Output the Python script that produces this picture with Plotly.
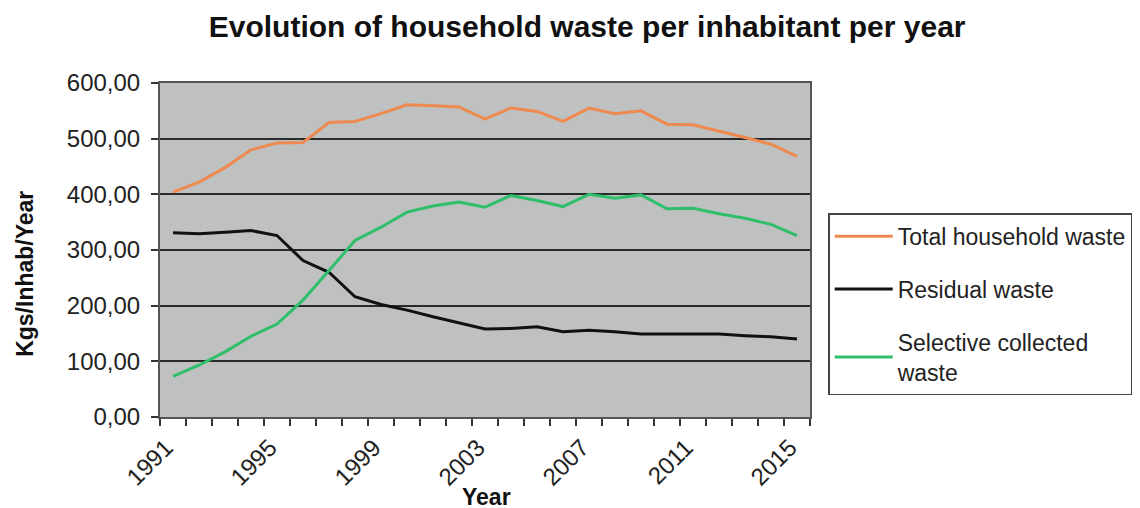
import plotly.graph_objects as go

years = list(range(1991, 2016))
total_waste = [404, 422, 448, 480, 492, 493, 529, 531, 545, 561, 559, 557, 535,
               555, 549, 531, 555, 545, 550, 526, 525, 514, 502, 490, 468]
residual_waste = [331, 329, 332, 335, 326, 281, 260, 216, 202, 192, 180, 169, 158,
                  159, 162, 153, 156, 153, 149, 149, 149, 149, 146, 144, 140]
selective_waste = [73, 93, 117, 145, 167, 210, 263, 317, 341, 368, 379, 386, 377,
                   398, 389, 378, 400, 393, 399, 374, 375, 365, 357, 346, 326]
y_ticks = [0, 100, 200, 300, 400, 500, 600]
y_tick_labels = ["0,00", "100,00", "200,00", "300,00", "400,00", "500,00", "600,00"]
x_label_years = [1991, 1995, 1999, 2003, 2007, 2011, 2015]

FONT = "Liberation Sans, Arial, sans-serif"

fig = go.Figure()
series = [
    ("Total household waste", total_waste, "#ee8a50"),
    ("Residual waste", residual_waste, "#111111"),
    ("Selective collected<br>waste", selective_waste, "#2fbf6b"),
]
for i, (name, values, color) in enumerate(series):
    fig.add_scatter(
        x=years,
        y=values,
        name=name,
        legendgroup=f"g{i}",
        mode="lines",
        line=dict(color=color, width=3),
    )

fig.update_xaxes(
    range=[1990.5, 2015.5],
    tickmode="array",
    tickvals=x_label_years,
    ticktext=[str(y) for y in x_label_years],
    tickangle=-45,
    ticks="",
    tickfont=dict(size=24, color="#222222"),
    ticklabelshift=-7,
    ticklabelstandoff=5,
    showgrid=False,
    zeroline=False,
    showline=True,
    linecolor="#555555",
    linewidth=2,
    mirror=True,
    minor=dict(
        tickmode="array",
        tickvals=[y - 0.5 for y in years] + [2015.5],
        ticks="outside",
        ticklen=7,
        tickcolor="#333333",
        tickwidth=1.5,
        showgrid=False,
    ),
)
fig.update_yaxes(
    range=[0, 600],
    tickmode="array",
    tickvals=y_ticks,
    ticktext=y_tick_labels,
    ticks="outside",
    ticklen=7,
    tickcolor="#333333",
    tickwidth=1.5,
    tickfont=dict(size=24, color="#222222"),
    ticklabelstandoff=6,
    showgrid=True,
    gridcolor="#2a2a2a",
    gridwidth=1.5,
    zeroline=False,
    showline=True,
    linecolor="#555555",
    linewidth=2,
    mirror=True,
)
fig.update_layout(
    width=1140,
    height=508,
    margin=dict(l=152, r=338, t=75, b=99, autoexpand=False),
    paper_bgcolor="white",
    plot_bgcolor="#bfc0c0",
    font=dict(family=FONT),
    title=dict(
        text="<b>Evolution of household waste per inhabitant per year</b>",
        x=0.508,
        xanchor="center",
        y=0.963,
        yanchor="middle",
        font=dict(size=30, color="#111111"),
    ),
    legend=dict(
        x=1.028,
        xanchor="left",
        y=0.61,
        yanchor="top",
        bgcolor="white",
        bordercolor="#444444",
        borderwidth=1.5,
        font=dict(size=23, color="#222222"),
        itemwidth=58,
        tracegroupgap=20,
    ),
    annotations=[
        dict(
            text="<b>Kgs/Inhab/Year</b>",
            textangle=-90,
            xref="paper",
            yref="paper",
            x=-0.208,
            y=0.428,
            xanchor="center",
            yanchor="middle",
            showarrow=False,
            font=dict(size=23, color="#111111"),
        ),
        dict(
            text="<b>Year</b>",
            xref="paper",
            yref="paper",
            x=0.503,
            y=-0.2395,
            xanchor="center",
            yanchor="middle",
            showarrow=False,
            font=dict(size=23, color="#111111"),
        ),
    ],
    showlegend=True,
)

fig.write_html("out.html")
